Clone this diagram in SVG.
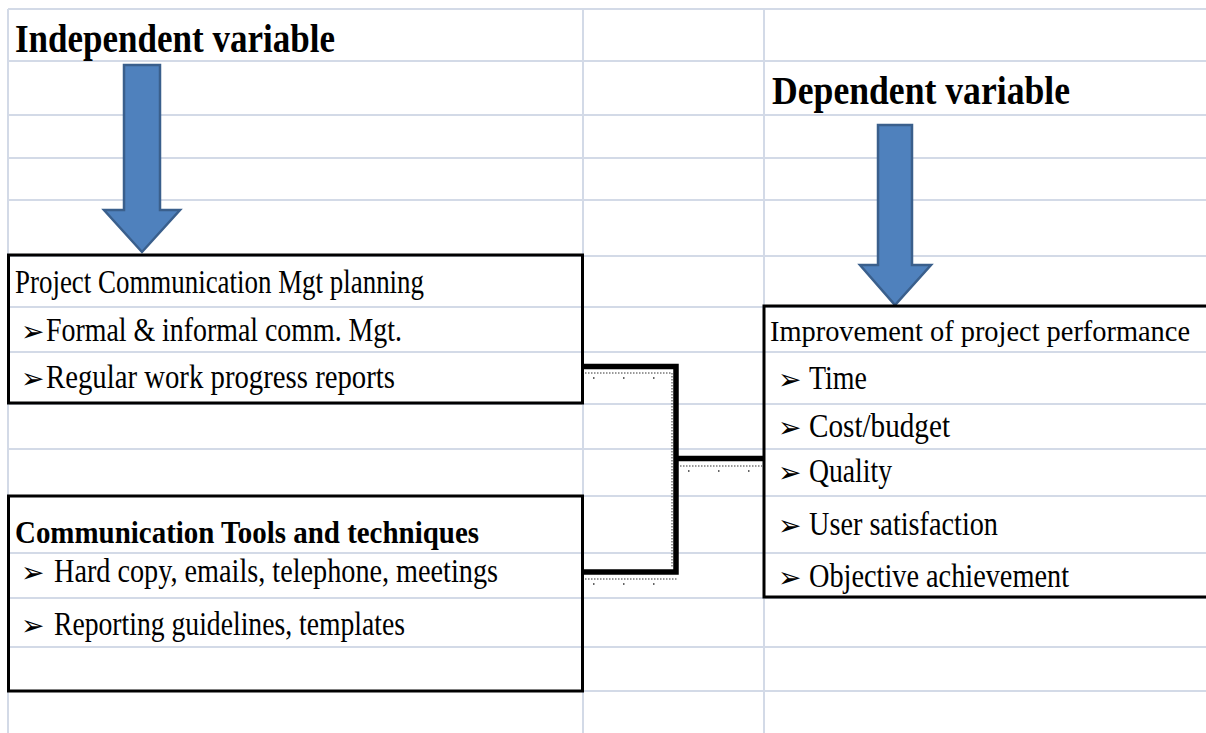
<svg xmlns="http://www.w3.org/2000/svg" width="1206" height="733" viewBox="0 0 1206 733">
<defs>
<style>
.grid line{stroke:#D3DAE7;stroke-width:2}
.title{font-family:"Liberation Serif","Times New Roman",serif;font-weight:bold;font-size:39px;fill:#000}
.t{font-family:"Liberation Serif","Times New Roman",serif;font-size:33px;fill:#000}
.tb{font-family:"Liberation Serif","Times New Roman",serif;font-weight:bold;font-size:32px;fill:#000}
.b{font-family:"DejaVu Sans","Noto Sans",sans-serif;font-size:28px;fill:#000}
.box{fill:none;stroke:#000;stroke-width:3}
.arrow{fill:#4F81BD;stroke:#3A5F8C;stroke-width:2.5;stroke-linejoin:miter}
.conn{fill:none;stroke:#000;stroke-width:5.5;stroke-linejoin:miter}
.dot{fill:none;stroke:#333;stroke-width:1;stroke-dasharray:1.5 1.5}
.dot2{fill:none;stroke:#333;stroke-width:1.5;stroke-dasharray:1.5 28.5}
</style>
</defs>
<rect width="1206" height="733" fill="#fff"/>
<g class="grid" id="grid">
<line x1="8" y1="9" x2="1206" y2="9"/>
<line x1="8" y1="61" x2="1206" y2="61"/>
<line x1="8" y1="115" x2="1206" y2="115"/>
<line x1="8" y1="158" x2="1206" y2="158"/>
<line x1="8" y1="200" x2="1206" y2="200"/>
<line x1="8" y1="256" x2="1206" y2="256"/>
<line x1="8" y1="307" x2="1206" y2="307"/>
<line x1="8" y1="352" x2="1206" y2="352"/>
<line x1="8" y1="404" x2="1206" y2="404"/>
<line x1="8" y1="449" x2="1206" y2="449"/>
<line x1="8" y1="496" x2="1206" y2="496"/>
<line x1="8" y1="553" x2="1206" y2="553"/>
<line x1="8" y1="598" x2="1206" y2="598"/>
<line x1="8" y1="647" x2="1206" y2="647"/>
<line x1="8" y1="691" x2="1206" y2="691"/>
<line x1="8" y1="9" x2="8" y2="733"/>
<line x1="583" y1="9" x2="583" y2="733"/>
<line x1="764" y1="9" x2="764" y2="733"/>
</g>
<g id="title-independent">
<text class="title" x="15" y="52" textLength="320" lengthAdjust="spacingAndGlyphs">Independent variable</text>
</g>
<g id="title-dependent">
<text class="title" x="772" y="104" textLength="298" lengthAdjust="spacingAndGlyphs">Dependent variable</text>
</g>
<g id="arrow-independent">
<polygon class="arrow" points="124,65 160,65 160,210 180,210 142,252 104,210 124,210"/>
</g>
<g id="arrow-dependent">
<polygon class="arrow" points="878,125 912,125 912,265 931,265 895,305 860,265 878,265"/>
</g>
<g id="connectors">
<path class="conn" d="M583,366.5 H676 V572 H583"/>
<path class="conn" d="M676,458.5 H763"/>
<path class="dot" d="M585,373 H672 V568"/>
<path class="dot" d="M585,579 H678"/>
<path class="dot" d="M680,466 H762"/>
<path class="dot2" d="M593,378 H673"/>
<path class="dot2" d="M688,471 H762"/>
<path class="dot2" d="M593,584 H678"/>
</g>
<g id="node-planning">
<rect class="box" x="8.5" y="255" width="574" height="148"/>
<text class="t" x="15" y="293" textLength="409" lengthAdjust="spacingAndGlyphs">Project Communication Mgt planning</text>
<text x="21" y="341"><tspan class="b">➢</tspan><tspan class="t" x="46" textLength="356" lengthAdjust="spacingAndGlyphs">Formal &amp; informal comm. Mgt.</tspan></text>
<text x="21" y="388"><tspan class="b">➢</tspan><tspan class="t" x="46" textLength="349" lengthAdjust="spacingAndGlyphs">Regular work progress reports</tspan></text>
</g>
<g id="node-tools">
<rect class="box" x="8.5" y="496" width="574" height="195"/>
<text class="tb" x="15" y="543" textLength="464" lengthAdjust="spacingAndGlyphs">Communication Tools and techniques</text>
<text x="21" y="582"><tspan class="b">➢</tspan><tspan class="t" x="54" textLength="444" lengthAdjust="spacingAndGlyphs">Hard copy, emails, telephone, meetings</tspan></text>
<text x="21" y="635"><tspan class="b">➢</tspan><tspan class="t" x="54" textLength="351" lengthAdjust="spacingAndGlyphs">Reporting guidelines, templates</tspan></text>
</g>
<g id="node-performance">
<path class="box" d="M1206,306 H764 V597 H1206"/>
<text class="t" x="770" y="341" style="font-size:30px" textLength="420" lengthAdjust="spacingAndGlyphs">Improvement of project performance</text>
<text x="778" y="389"><tspan class="b">➢</tspan><tspan class="t" x="809" textLength="58" lengthAdjust="spacingAndGlyphs">Time</tspan></text>
<text x="778" y="437"><tspan class="b">➢</tspan><tspan class="t" x="809" textLength="141" lengthAdjust="spacingAndGlyphs">Cost/budget</tspan></text>
<text x="778" y="482"><tspan class="b">➢</tspan><tspan class="t" x="809" textLength="83" lengthAdjust="spacingAndGlyphs">Quality</tspan></text>
<text x="778" y="535"><tspan class="b">➢</tspan><tspan class="t" x="809" textLength="189" lengthAdjust="spacingAndGlyphs">User satisfaction</tspan></text>
<text x="778" y="587"><tspan class="b">➢</tspan><tspan class="t" x="809" textLength="260" lengthAdjust="spacingAndGlyphs">Objective achievement</tspan></text>
</g>
</svg>
